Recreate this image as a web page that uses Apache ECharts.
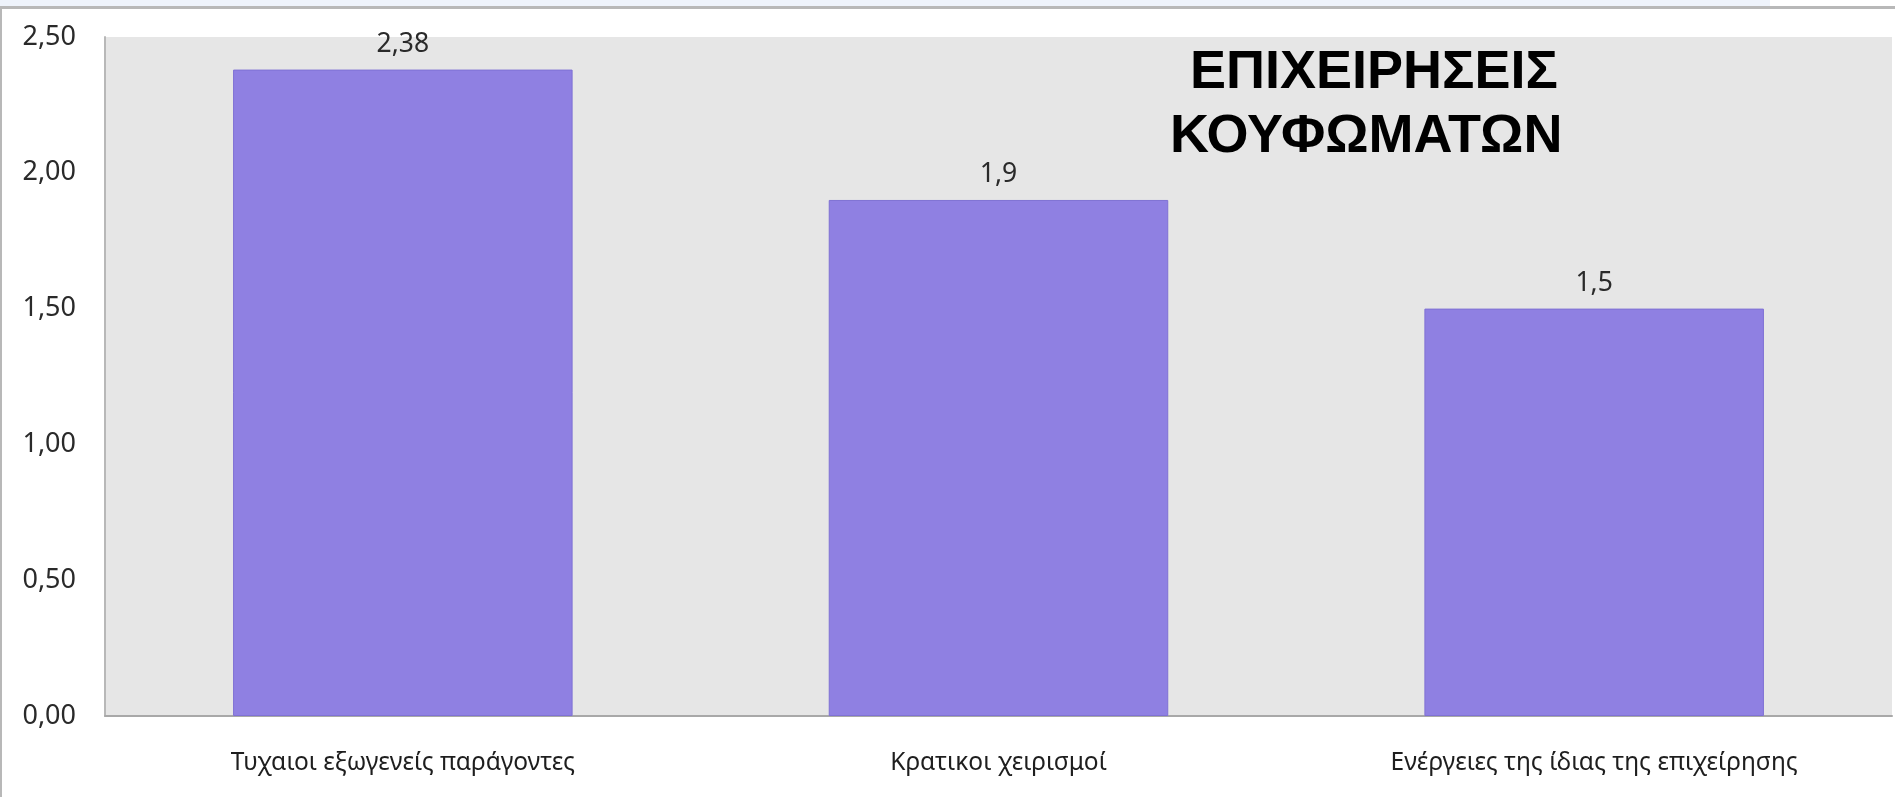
<!DOCTYPE html>
<html>
<head>
<meta charset="utf-8">
<script src="https://cdn.jsdelivr.net/npm/echarts@6/dist/echarts.min.js"></script>
<style>
html,body{margin:0;padding:0;background:#fff;}
#c{width:1895px;height:797px;}
</style>
</head>
<body>
<div id="c"></div>
<script>
const categories = ['Τυχαιοι εξωγενείς παράγοντες', 'Κρατικοι χειρισμοί', 'Ενέργειες της ίδιας της επιχείρησης'];
const values = [2.38, 1.9, 1.5];
const titleLines = ['ΕΠΙΧΕΙΡΗΣΕΙΣ', 'ΚΟΥΦΩΜΑΤΩΝ'];

const chart = echarts.init(document.getElementById('c'), null, {renderer: 'canvas'});
const labelFont = "'Noto Sans', 'DejaVu Sans', sans-serif";
chart.setOption({
  animation: false,
  backgroundColor: '#ffffff',
  grid: {
    left: 105, right: 3, top: 37, bottom: 81,
    show: true, backgroundColor: '#e6e6e6', borderWidth: 0
  },
  xAxis: {
    type: 'category',
    data: categories,
    axisLine: {show: true, lineStyle: {color: '#a8a8a8', width: 2}},
    axisTick: {show: false},
    axisLabel: {color: '#1e1e1e', fontFamily: labelFont, fontSize: 24.5, margin: 35}
  },
  yAxis: {
    type: 'value',
    min: 0, max: 2.5, interval: 0.5,
    axisLine: {show: true, lineStyle: {color: '#b8b8b8', width: 2}},
    axisTick: {show: false},
    splitLine: {show: false},
    axisLabel: {
      color: '#2a2a2a', fontFamily: labelFont, fontSize: 27, margin: 29,
      formatter: v => v.toFixed(2).replace('.', ',')
    }
  },
  series: [{
    type: 'bar',
    data: values,
    barWidth: '57%',
    itemStyle: {color: '#8f80e2', borderColor: '#7f71d4', borderWidth: 1},
    label: {
      show: true, position: 'top', distance: 12,
      color: '#2a2a2a', fontFamily: labelFont, fontSize: 26.5,
      formatter: p => String(p.value).replace('.', ',')
    }
  }],
  graphic: [
    {type: 'rect', shape: {x: 0, y: 0, width: 1770, height: 6}, style: {fill: '#eef3fb'}, silent: true},
    {type: 'rect', shape: {x: 0, y: 6, width: 1895, height: 3}, style: {fill: '#b8b8b8'}, silent: true},
    {type: 'rect', shape: {x: 0, y: 9, width: 2, height: 788}, style: {fill: '#b8b8b8'}, silent: true},
    {type: 'text', left: 1390 - 200, top: 46, style: {
      text: titleLines[0], fill: '#000', font: "bold 54px 'Liberation Sans', Arial, sans-serif",
      width: 400, align: 'center'
    }},
    {type: 'text', left: 1390 - 220, top: 110, style: {
      text: titleLines[1], fill: '#000', font: "bold 54px 'Liberation Sans', Arial, sans-serif",
      width: 440, align: 'center'
    }}
  ]
});
</script>
</body>
</html>
